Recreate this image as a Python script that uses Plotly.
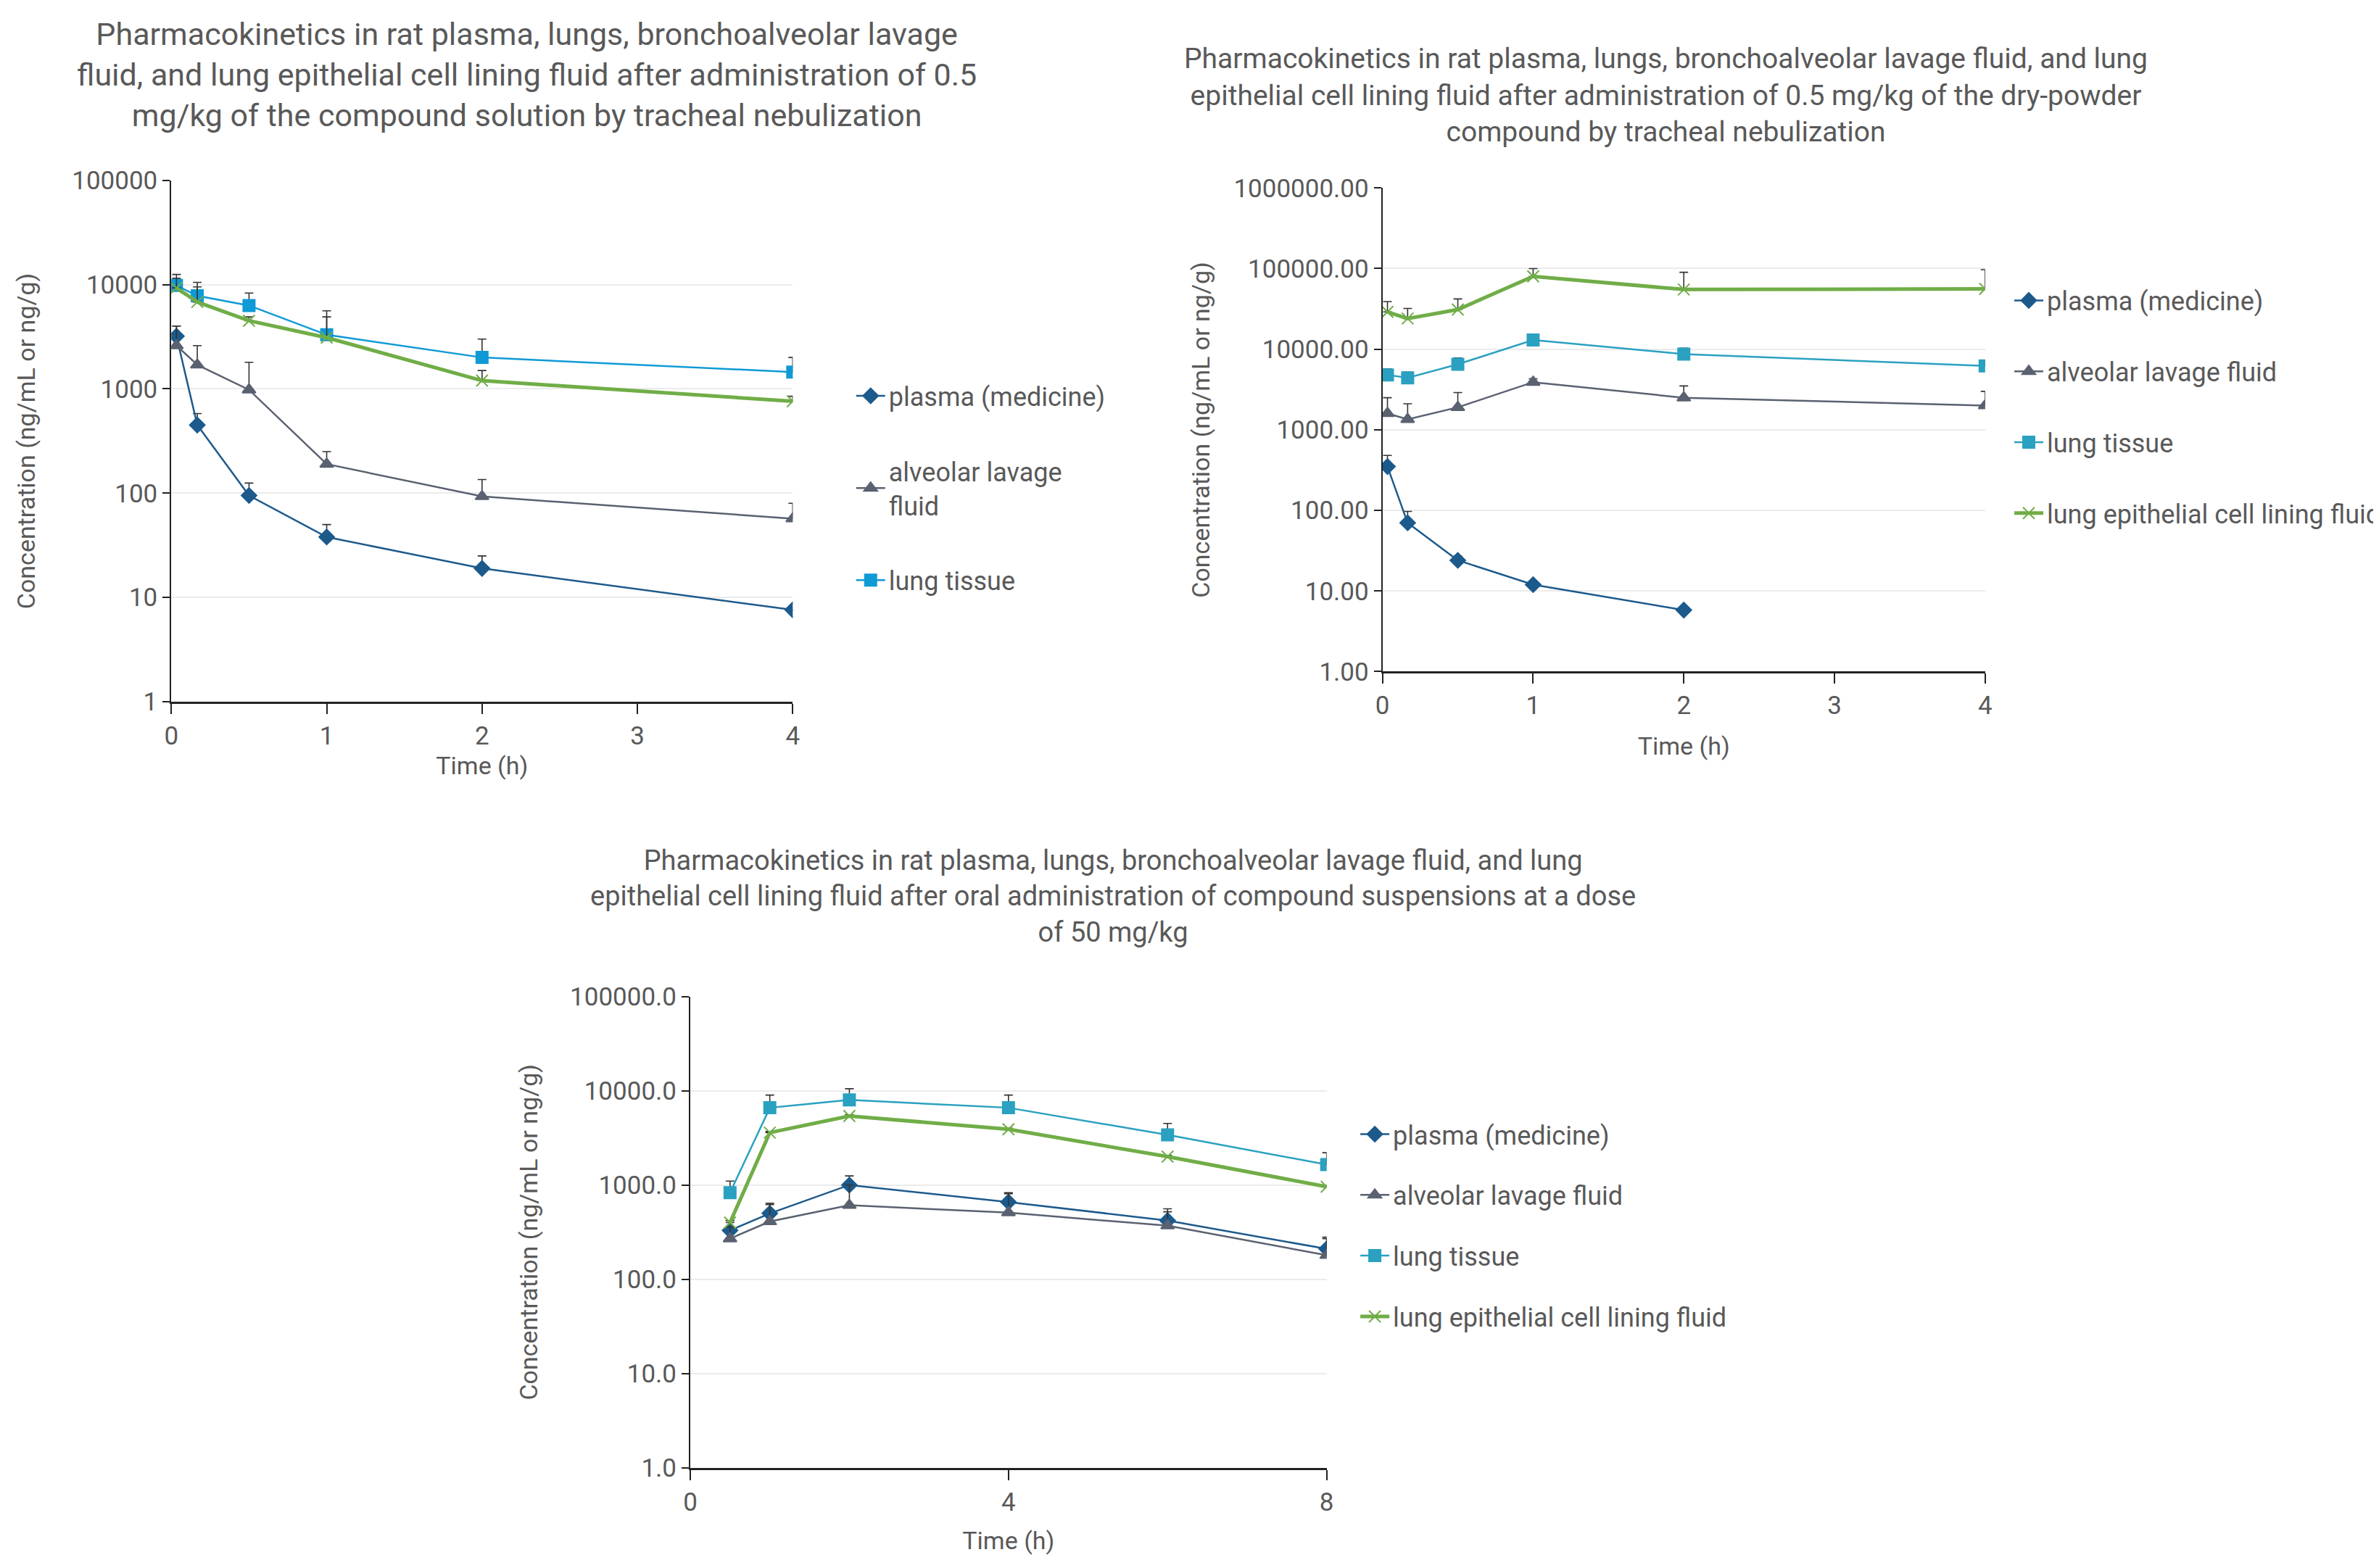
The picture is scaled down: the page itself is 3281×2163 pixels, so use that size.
import plotly.graph_objects as go

# ---------- data ----------
t1 = [0.033, 0.167, 0.5, 1, 2, 4]
p1 = [3200, 450, 95, 38, 19, 7.6];        p1e = [800, 130, 30, 12, 6, 0]
a1 = [2600, 1700, 980, 190, 93, 57];      a1e = [1400, 900, 820, 60, 42, 23]
l1 = [9800, 7800, 6300, 3300, 2000, 1450]; l1e = [2700, 2700, 2000, 2300, 1000, 550]
e1 = [9300, 6800, 4500, 3100, 1200, 760]; e1e = [2200, 2700, 400, 1800, 300, 90]

t2 = [0.033, 0.167, 0.5, 1, 2, 4]
p2 = [350, 70, 24, 12, 5.8, None];        p2e = [130, 27, 3, 0, 0, 0]
a2 = [1600, 1350, 1900, 3900, 2500, 2000]; a2e = [900, 750, 1000, 400, 1000, 1000]
l2 = [4800, 4400, 6500, 13000, 8700, 6200]; l2e = [900, 800, 1300, 2000, 1600, 1100]
e2 = [29000, 24000, 31000, 80000, 55000, 56000]; e2e = [10000, 8000, 11000, 20000, 35000, 41000]

t3 = [0.5, 1, 2, 4, 6, 8]
p3 = [330, 500, 1000, 660, 420, 210];     p3e = [90, 140, 250, 170, 140, 70]
a3 = [270, 410, 610, 510, 370, 180];      a3e = [90, 210, 390, 300, 150, 90]
l3 = [830, 6600, 8000, 6600, 3400, 1650]; l3e = [270, 2400, 2500, 2400, 1100, 550]
e3 = [400, 3600, 5400, 3900, 2000, 960];  e3e = [20, 100, 150, 100, 60, 30]

names = ["plasma (medicine)", "alveolar lavage fluid", "lung tissue", "lung epithelial cell lining fluid"]
names1 = ["plasma (medicine)", "alveolar lavage<br>fluid", "lung tissue", "lung epithelial cell lining fluid"]

C_P = "#1d5a8c"; C_A = "#5a6170"; C_L1 = "#0f9ad6"; C_L = "#2aa1c0"; C_E = "#70ad47"
GRAY = "#595959"
FONT = "Roboto"

fig = go.Figure()

def add(t, y, e, name, color, sym, ax, legend, show=True, width=2.5, msize=16):
    xa = "x" if ax == 1 else "x%d" % ax
    ya = "y" if ax == 1 else "y%d" % ax
    fig.add_trace(go.Scatter(
        x=t, y=y, name=name, mode="lines+markers", xaxis=xa, yaxis=ya,
        legend=legend, showlegend=show,
        line=dict(color=color, width=width),
        marker=dict(symbol=sym, size=msize, color=color,
                    line=dict(color=color, width=2)),
        error_y=dict(type="data", array=e, arrayminus=[0]*len(e),
                     color="#333333", thickness=1.6, width=6, symmetric=False),
    ))

series1 = [(p1, p1e, C_P, "diamond"), (a1, a1e, C_A, "triangle-up"),
           (l1, l1e, C_L1, "square"), (e1, e1e, C_E, "x-thin-open")]
for i, (y, e, c, s) in enumerate(series1):
    add(t1, y, e, names1[i], c, s, 1, "legend", show=(i < 3),
        width=5 if i == 3 else 2.5)

series2 = [(p2, p2e, C_P, "diamond"), (a2, a2e, C_A, "triangle-up"),
           (l2, l2e, C_L, "square"), (e2, e2e, C_E, "x-thin-open")]
for i, (y, e, c, s) in enumerate(series2):
    add(t2, y, e, names[i], c, s, 2, "legend2", width=5 if i == 3 else 2.5)

series3 = [(p3, p3e, C_P, "diamond"), (a3, a3e, C_A, "triangle-up"),
           (l3, l3e, C_L, "square"), (e3, e3e, C_E, "x-thin-open")]
for i, (y, e, c, s) in enumerate(series3):
    add(t3, y, e, names[i], c, s, 3, "legend3", width=5 if i == 3 else 2.5)

tickfont = dict(family=FONT, size=35, color=GRAY)
titlefont = dict(family=FONT, size=34, color=GRAY)

def xaxis(domain, rng, dtick, anchor, standoff=10):
    return dict(domain=domain, range=rng, dtick=dtick, anchor=anchor,
                showline=True, linecolor="#222222", linewidth=3,
                ticks="outside", ticklen=14, tickcolor="#222222", tickwidth=2,
                showgrid=False, zeroline=False, tickfont=tickfont,
                title=dict(text="Time (h)", font=titlefont, standoff=standoff))

def yaxis(domain, top, fmt, anchor, standoff=30):
    vals = [10**k for k in range(0, top + 1)]
    txt = [fmt.format(v) for v in vals]
    return dict(domain=domain, type="log", range=[0, top], anchor=anchor,
                tickvals=vals, ticktext=txt,
                showline=True, linecolor="#222222", linewidth=2,
                ticks="outside", ticklen=10, tickcolor="#222222", tickwidth=2,
                showgrid=True, gridcolor="#ebebeb", gridwidth=2,
                zeroline=False, tickfont=tickfont,
                title=dict(text="Concentration (ng/mL or ng/g)", font=titlefont, standoff=standoff))

legfont = dict(family=FONT, size=36, color=GRAY)
fig.update_layout(
    width=3281, height=2163, margin=dict(l=0, r=0, t=0, b=0),
    paper_bgcolor="white", plot_bgcolor="white",
    xaxis=xaxis([0.0675, 0.3325], [0, 4], 1, "y"),
    yaxis=yaxis([0.557, 0.896], 5, "{:.0f}", "x", standoff=40),
    xaxis2=xaxis([0.584, 0.841], [0, 4], 1, "y2", standoff=24),
    yaxis2=yaxis([0.5766, 0.891], 6, "{:.2f}", "x2", standoff=22),
    xaxis3=xaxis([0.2888, 0.5602], [0, 8], 4, "y3", standoff=22),
    yaxis3=yaxis([0.059, 0.3654], 5, "{:.1f}", "x3", standoff=34),
    legend=dict(x=0.358, y=0.77, xanchor="left", yanchor="top", font=legfont,
                tracegroupgap=54, bgcolor="rgba(0,0,0,0)", itemwidth=40),
    legend2=dict(x=0.852, y=0.832, xanchor="left", yanchor="top", font=legfont,
                 tracegroupgap=48, bgcolor="rgba(0,0,0,0)", itemwidth=40),
    legend3=dict(x=0.573, y=0.29, xanchor="left", yanchor="top", font=legfont,
                 tracegroupgap=34, bgcolor="rgba(0,0,0,0)", itemwidth=40),
)
for lg in ["legend", "legend2", "legend3"]:
    fig.layout[lg].traceorder = "grouped"
for i, tr in enumerate(fig.data):
    tr.legendgroup = "g%d" % i

titles = [
    ("Pharmacokinetics in rat plasma, lungs, bronchoalveolar lavage<br>fluid, and lung epithelial cell lining fluid after administration of 0.5<br>mg/kg of the compound solution by tracheal nebulization",
     0.219, 1.004, 43),
    ("Pharmacokinetics in rat plasma, lungs, bronchoalveolar lavage fluid, and lung<br>epithelial cell lining fluid after administration of 0.5 mg/kg of the dry-powder<br>compound by tracheal nebulization",
     0.705, 0.987, 39),
    ("Pharmacokinetics in rat plasma, lungs, bronchoalveolar lavage fluid, and lung<br>epithelial cell lining fluid after oral administration of compound suspensions at a dose<br>of 50 mg/kg",
     0.469, 0.465, 38),
]
for txt, x, y, sz in titles:
    fig.add_annotation(text=txt, x=x, y=y, xref="paper", yref="paper",
                       xanchor="center", yanchor="top", showarrow=False,
                       font=dict(family=FONT, size=sz, color=GRAY), align="center")

fig.write_html("out.html")
